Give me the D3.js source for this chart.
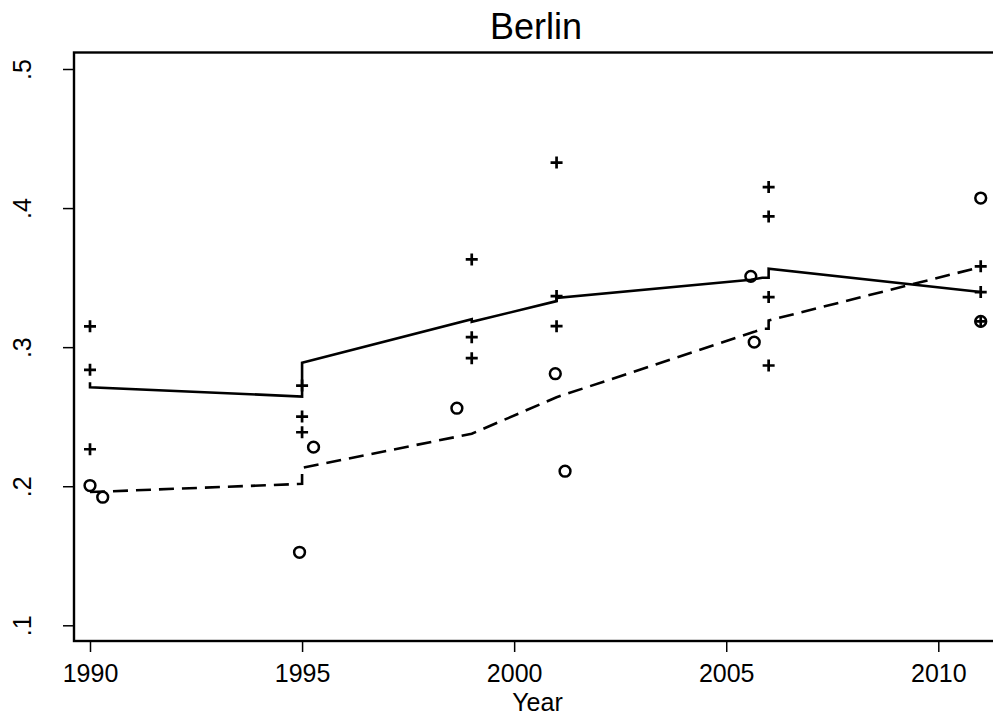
<!DOCTYPE html>
<html>
<head>
<meta charset="utf-8">
<script src="https://cdn.jsdelivr.net/npm/d3@7"></script>
<style>
  html, body { margin: 0; padding: 0; background: #fff; }
  svg { display: block; font-family: "Liberation Sans", Arial, Helvetica, sans-serif; }
</style>
</head>
<body>
<svg id="chart" width="993" height="715"></svg>
<script>
// Observed shares, "+" markers
const plusYears  = [1990, 1990, 1990, 1995, 1995, 1995, 1999, 1999, 1999, 2001, 2001, 2001, 2006, 2006, 2006, 2006, 2011, 2011, 2011];
const plusValues = [0.315, 0.2837, 0.2266, 0.2724, 0.2501, 0.2388, 0.3631, 0.3072, 0.2921, 0.4327, 0.3367, 0.3151, 0.4151, 0.394, 0.336, 0.2868, 0.3581, 0.3396, 0.3185];

// Observed shares, "o" markers
const circleYears  = [1990, 1990.3, 1994.94, 1995.27, 1998.65, 2000.97, 2001.2, 2005.58, 2005.66, 2011, 2011];
const circleValues = [0.2005, 0.1921, 0.1525, 0.2281, 0.2561, 0.2809, 0.2108, 0.3509, 0.3036, 0.4072, 0.3185];

// Fitted trend, solid line
const solidYears  = [1990, 1990, 1995, 1995, 1999, 1999, 2001, 2001, 2005.58, 2005.85, 2006, 2006, 2011];
const solidValues = [0.2748, 0.2712, 0.2645, 0.2888, 0.3201, 0.3182, 0.3331, 0.3353, 0.3485, 0.3499, 0.3499, 0.3564, 0.3396];

// Fitted trend, dashed line
const dashYears  = [1990, 1995, 1995, 1999, 2001, 2005.66, 2005.85, 2006, 2006, 2011];
const dashValues = [0.1958, 0.2017, 0.2132, 0.2377, 0.264, 0.311, 0.3132, 0.3132, 0.3192, 0.3576];

// Axis ticks
const xTicks = [1990, 1995, 2000, 2005, 2010];
const yTicks = [0.1, 0.2, 0.3, 0.4, 0.5];
const yTickLabels = [".1", ".2", ".3", ".4", ".5"];

const svg = d3.select("#chart");

const frame = { left: 74, top: 52.5, right: 998, bottom: 641 };

const x = d3.scaleLinear().domain([1990, 2010]).range([90, 938.3]);
const y = d3.scaleLinear().domain([0.1, 0.5]).range([625.3, 69]);

// Title
svg.append("text")
  .attr("x", (frame.left + frame.right) / 2)
  .attr("y", 39)
  .attr("text-anchor", "middle")
  .attr("font-size", 36)
  .attr("fill", "#000")
  .text("Berlin");

// Plot region outline
svg.append("rect")
  .attr("x", frame.left)
  .attr("y", frame.top)
  .attr("width", frame.right - frame.left)
  .attr("height", frame.bottom - frame.top)
  .attr("fill", "none")
  .attr("stroke", "#000")
  .attr("stroke-width", 2.4);

// Bottom axis
const xAxis = svg.append("g")
  .attr("transform", `translate(0,${frame.bottom})`)
  .call(d3.axisBottom(x).tickValues(xTicks).tickFormat(d3.format("d")).tickSize(11).tickPadding(12));
xAxis.select(".domain").remove();
xAxis.selectAll(".tick line").attr("stroke", "#000").attr("stroke-width", 1.5);
xAxis.selectAll(".tick text")
  .attr("font-size", 25)
  .attr("font-family", "Liberation Sans, Arial, sans-serif")
  .attr("fill", "#000");

// Left axis with rotated labels
const yAxis = svg.append("g")
  .attr("transform", `translate(${frame.left},0)`)
  .call(d3.axisLeft(y).tickValues(yTicks).tickFormat((d, i) => yTickLabels[i]).tickSize(11));
yAxis.select(".domain").remove();
yAxis.selectAll(".tick line").attr("stroke", "#000").attr("stroke-width", 1.5);
yAxis.selectAll(".tick text")
  .attr("x", null)
  .attr("dy", null)
  .attr("text-anchor", "middle")
  .attr("transform", "translate(-43,0) rotate(-90)")
  .attr("font-size", 25)
  .attr("font-family", "Liberation Sans, Arial, sans-serif")
  .attr("fill", "#000");

// Axis title
svg.append("text")
  .attr("x", 537.5)
  .attr("y", 711)
  .attr("text-anchor", "middle")
  .attr("font-size", 25)
  .attr("fill", "#000")
  .text("Year");

const line = d3.line().x(d => x(d[0])).y(d => y(d[1]));

// Fitted trends
svg.append("path")
  .datum(d3.zip(solidYears, solidValues))
  .attr("d", line)
  .attr("fill", "none")
  .attr("stroke", "#000")
  .attr("stroke-width", 2.6)
  .attr("stroke-linejoin", "miter");

svg.append("path")
  .datum(d3.zip(dashYears, dashValues))
  .attr("d", line)
  .attr("fill", "none")
  .attr("stroke", "#000")
  .attr("stroke-width", 2.6)
  .attr("stroke-dasharray", "15,8");

// Markers
svg.append("g").selectAll("circle")
  .data(d3.zip(circleYears, circleValues))
  .join("circle")
  .attr("cx", d => x(d[0]))
  .attr("cy", d => y(d[1]))
  .attr("r", 5.4)
  .attr("fill", "none")
  .attr("stroke", "#000")
  .attr("stroke-width", 2.5);

svg.append("g").selectAll("path")
  .data(d3.zip(plusYears, plusValues))
  .join("path")
  .attr("transform", d => `translate(${x(d[0])},${y(d[1])})`)
  .attr("d", "M-6,0H6M0,-6V6")
  .attr("stroke", "#000")
  .attr("stroke-width", 2.7)
  .attr("fill", "none");
</script>
</body>
</html>
